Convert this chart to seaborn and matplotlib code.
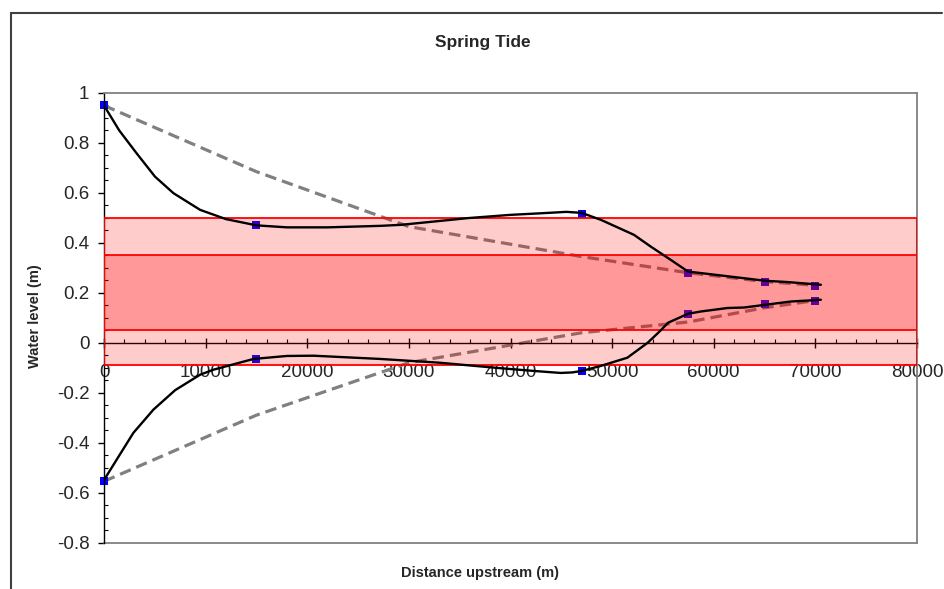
import matplotlib
matplotlib.use("Agg")
import matplotlib.pyplot as plt
from matplotlib.lines import Line2D
from matplotlib.ticker import MultipleLocator, FuncFormatter
import pandas as pd
import seaborn as sns

# Observed high / low water levels along the estuary
obs_dist = [0, 15000, 47000, 57500, 65000, 70000]
obs_high = [0.95, 0.47, 0.515, 0.28, 0.243, 0.229]
obs_low = [-0.555, -0.065, -0.113, 0.116, 0.155, 0.169]

# Simple damped envelope (dashed)
env_dist = [0, 15000, 30000, 47000, 57500, 65000, 70000]
env_high = [0.95, 0.685, 0.465, 0.345, 0.28, 0.245, 0.23]
env_low = [-0.555, -0.29, -0.08, 0.04, 0.083, 0.14, 0.169]

# Modelled high water line
mod_high_dist = [0, 1500, 3200, 5020, 6830, 9460, 12000, 15000, 18000, 22000,
                 27200, 29200, 32400, 35800, 40000, 43300, 45500, 47000, 48900,
                 52150, 53800, 55760, 57470, 58720, 62000, 65080, 67250, 70540]
mod_high = [0.95, 0.85, 0.759, 0.665, 0.599, 0.532, 0.495, 0.47, 0.462, 0.462,
            0.468, 0.472, 0.485, 0.499, 0.512, 0.519, 0.524, 0.52, 0.492,
            0.432, 0.385, 0.332, 0.285, 0.279, 0.263, 0.248, 0.243, 0.232]

# Modelled low water line
mod_low_dist = [0, 1250, 2890, 4860, 7000, 9460, 10770, 14710, 18000, 20620,
                27200, 33000, 39010, 42300, 44930, 46070, 47000, 48870, 51500,
                53500, 54800, 55500, 57470, 58720, 61350, 62990, 65080, 67580,
                70540]
mod_low = [-0.55, -0.468, -0.361, -0.268, -0.19, -0.128, -0.108, -0.065, -0.053,
           -0.052, -0.065, -0.08, -0.102, -0.113, -0.121, -0.119, -0.113, -0.093,
           -0.06, 0.0, 0.05, 0.08, 0.116, 0.125, 0.139, 0.141, 0.152, 0.165, 0.172]

# Shaded water level ranges
band_outer = (-0.09, 0.5)
band_inner = (0.05, 0.35)

x_ticks = [0, 10000, 20000, 30000, 40000, 50000, 60000, 70000, 80000]
y_ticks = [-0.8, -0.6, -0.4, -0.2, 0, 0.2, 0.4, 0.6, 0.8, 1]

sns.set_style("white")
plt.rcParams["font.family"] = ["Liberation Sans", "DejaVu Sans"]

W, H = 944, 589
fig = plt.figure(figsize=(W / 100, H / 100), dpi=100)
ax_l, ax_r, ax_t, ax_b = 104, 917, 93, 542.5
ax = fig.add_axes([ax_l / W, 1 - ax_b / H, (ax_r - ax_l) / W, (ax_b - ax_t) / H])

grey = "#808080"

# dashed envelopes
for yy in (env_high, env_low):
    df = pd.DataFrame({"d": env_dist, "h": yy})
    sns.lineplot(data=df, x="d", y="h", ax=ax, sort=False, estimator=None,
                 color=grey, linewidth=2.3, zorder=2)
    ax.lines[-1].set_linestyle((0, (3.6, 1.9)))

# observation markers
obs = pd.DataFrame({"d": obs_dist * 2, "h": obs_high + obs_low})
sns.scatterplot(data=obs, x="d", y="h", ax=ax, marker="s", s=30, color="#0000FF",
                linewidth=0, zorder=2, clip_on=False, legend=False)

# bands
ax.axhspan(*band_outer, facecolor=(1, 0, 0, 0.2), edgecolor="#FF0000", lw=1.3, zorder=3)
ax.axhspan(*band_inner, facecolor=(1, 0, 0, 0.25), edgecolor="#FF0000", lw=1.3, zorder=3)

# modelled lines
for dd, yy in ((mod_high_dist, mod_high), (mod_low_dist, mod_low)):
    df = pd.DataFrame({"d": dd, "h": yy})
    sns.lineplot(data=df, x="d", y="h", ax=ax, sort=False, estimator=None,
                 color="black", linewidth=1.7, zorder=4)

ax.set_xlim(0, 80000)
ax.set_ylim(-0.8, 1)
ax.set_xlabel("")
ax.set_ylabel("")

# axes: y axis at x=0, x axis crossing at y=0
ax.spines["bottom"].set_position(("data", 0))
for s in ("left", "bottom"):
    ax.spines[s].set_color("black")
    ax.spines[s].set_linewidth(1.0)
for s in ("top", "right"):
    ax.spines[s].set_color(grey)
    ax.spines[s].set_linewidth(1.3)
ax.add_line(Line2D([0, 1], [0, 0], transform=ax.transAxes, color=grey, lw=1.3,
                   clip_on=False, zorder=2.5))

ax.set_xticks(x_ticks)
ax.set_yticks(y_ticks)
ax.xaxis.set_minor_locator(MultipleLocator(2000))
ax.yaxis.set_minor_locator(MultipleLocator(0.05))
ax.xaxis.set_major_formatter(FuncFormatter(lambda v, p: f"{int(round(v))}"))
ax.yaxis.set_major_formatter(FuncFormatter(lambda v, p: f"{round(v, 2):g}" if abs(v) > 1e-9 else "0"))

ax.tick_params(axis="x", which="major", direction="inout", length=6.5, width=1,
               labelsize=13.5, pad=12, color="black")
ax.tick_params(axis="x", which="minor", direction="in", length=3, width=0.8, color="black")
ax.tick_params(axis="y", which="major", direction="out", length=4.5, width=1,
               labelsize=13.5, pad=6, color="black", left=True)
ax.tick_params(axis="y", which="minor", direction="in", length=3, width=0.8,
               color="black", left=True)
ax.tick_params(bottom=True, left=True, which="both")

fig.text(483 / W, 1 - 42 / H, "Spring Tide", ha="center", va="center",
         fontsize=12.5, fontweight="bold")
fig.text(480 / W, 1 - 573 / H, "Distance upstream (m)", ha="center", va="center",
         fontsize=10.5, fontweight="bold")
fig.text(35 / W, 1 - 316 / H, "Water level (m)", ha="center", va="center",
         rotation=90, fontsize=10.5, fontweight="bold")

# chart area frame
frame_c = "#404040"
fig.add_artist(Line2D([11 / W, 11 / W], [0, 1 - 13 / H], transform=fig.transFigure,
                      color=frame_c, lw=1.5))
fig.add_artist(Line2D([11 / W, 942 / W], [1 - 13 / H, 1 - 13 / H],
                      transform=fig.transFigure, color=frame_c, lw=1.5))

fig.savefig("out.png", dpi=100)
